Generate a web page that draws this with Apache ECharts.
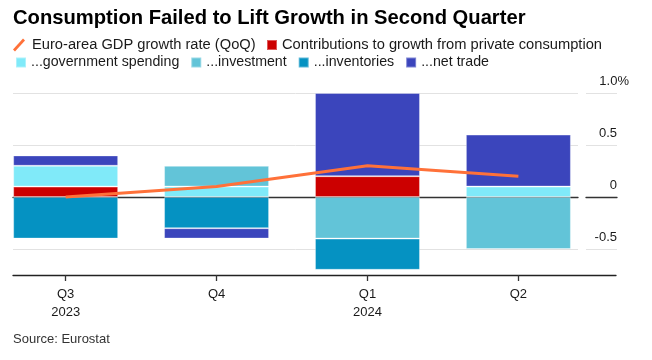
<!DOCTYPE html>
<html>
<head>
<meta charset="utf-8">
<script src="https://cdn.jsdelivr.net/npm/echarts@6/dist/echarts.min.js"></script>
<style>html,body{margin:0;padding:0;background:#fff}#c{width:652px;height:360px}</style>
</head>
<body>
<div id="c"></div>
<script>
const categories = ['Q3\n2023', 'Q4', 'Q1\n2024', 'Q2'];
const gdpGrowth = [0.0, 0.1, 0.3, 0.2];
const privateConsumption = [0.1, 0, 0.2, 0];
const governmentSpending = [0.2, 0.1, 0, 0.1];
const investment = [0, 0.2, -0.4, -0.5];
const inventories = [-0.4, -0.3, -0.3, 0];
const netTrade = [0.1, -0.1, 0.8, 0.5];
const yTicks = [-0.5, 0, 0.5, 1.0];

const names = {
  gdp: 'Euro-area GDP growth rate (QoQ)',
  cons: 'Contributions to growth from private consumption',
  gov: '...government spending',
  inv: '...investment',
  stock: '...inventories',
  trade: '...net trade'
};
const colors = {
  gdp: '#ff7139', cons: '#cc0000', gov: '#80eaf9', inv: '#62c4d8', stock: '#0592c2', trade: '#3b45bc'
};

const xIdx = categories.map((_, i) => i);
const XMIN = -0.349, XMAX0 = 3.395, XMAX2 = 3.654;
const YMIN = -0.75, YMAX = 1.0;

function barSeries(key, vals) {
  return {
    name: names[key], type: 'bar', stack: 'c', xAxisIndex: 0, yAxisIndex: 0,
    barWidth: 105,
    encode: { x: 1, y: 0 },
    itemStyle: { color: colors[key], borderColor: 'rgba(255,255,255,0.35)', borderWidth: 1 },
    data: vals.map((v, i) => [v === 0 ? null : v, xIdx[i]]),
    z: 2
  };
}

const chart = echarts.init(document.getElementById('c'), null, { renderer: 'canvas' });
const txt = '#1a1a1a';
const FF = 'Liberation Sans, Arial, sans-serif';
chart.setOption({
  animation: false,
  textStyle: { fontFamily: FF },
  title: {
    text: 'Consumption Failed to Lift Growth in Second Quarter',
    left: 13, top: 8, padding: 0,
    textStyle: { fontSize: 20.2, fontWeight: 'bold', color: '#000', fontFamily: FF }
  },
  legend: [
    {
      left: 13, top: 37.5, padding: 0, itemWidth: 12, itemHeight: 13,
      textStyle: { fontSize: 14.7, color: txt, padding: [0, 0, 0, 2] },
      data: [{ name: names.gdp, icon: 'path://M0,11 L10,0 L12,2 L2,13 Z' }]
    },
    {
      left: 266, top: 37.5, padding: 0, itemWidth: 10, itemHeight: 10,
      textStyle: { fontSize: 14.7, color: txt },
      data: [{ name: names.cons, icon: 'rect' }]
    },
    {
      left: 15, top: 55.5, padding: 0, itemWidth: 10, itemHeight: 10, itemGap: 11,
      textStyle: { fontSize: 14.2, color: txt },
      data: [names.gov, names.inv, names.stock, names.trade].map(n => ({ name: n, icon: 'rect' }))
    }
  ],
  grid: [
    { left: 13, right: 652 - 578, top: 93, bottom: 360 - 275 },
    { left: 586, right: 652 - 617, top: 93, bottom: 360 - 275 },
    { left: 13, right: 652 - 616, top: 93, bottom: 360 - 275 }
  ],
  xAxis: [
    { gridIndex: 0, type: 'value', min: XMIN, max: XMAX0,
      axisLine: { show: true, onZero: true, lineStyle: { color: '#333', width: 1.3 } },
      axisTick: { show: false }, axisLabel: { show: false }, splitLine: { show: false } },
    { gridIndex: 1, type: 'value', min: 0, max: 1,
      axisLine: { show: true, onZero: true, lineStyle: { color: '#333', width: 1.3 } },
      axisTick: { show: false }, axisLabel: { show: false }, splitLine: { show: false } },
    { gridIndex: 2, type: 'value', min: XMIN, max: XMAX2 - 0.007, position: 'bottom',
      axisLine: { show: true, onZero: false, lineStyle: { color: '#222', width: 1.3 } },
      axisTick: { show: true, customValues: xIdx, length: 6, lineStyle: { color: '#333', width: 1.3 } },
      axisLabel: { show: true, customValues: xIdx, margin: 10, fontSize: 13, lineHeight: 18, color: txt,
        formatter: v => categories[Math.round(v)] },
      splitLine: { show: false } }
  ],
  yAxis: [
    { gridIndex: 0, type: 'value', min: YMIN, max: YMAX, interval: 0.25,
      axisLine: { show: false }, axisTick: { show: false }, axisLabel: { show: false },
      splitLine: { show: true, lineStyle: { color: ['rgba(0,0,0,0)', '#e2e2e2'], width: 1 } } },
    { gridIndex: 1, type: 'value', min: YMIN, max: YMAX, interval: 0.25, position: 'right',
      axisLine: { show: false }, axisTick: { show: false },
      axisLabel: {
        show: true, inside: true, margin: -12, verticalAlign: 'bottom', fontSize: 13, color: txt,
        padding: [0, 0, 5, 0],
        formatter: v => {
          const r = Math.round(v * 100) / 100;
          if (!yTicks.some(t => Math.abs(t - r) < 1e-6)) return '';
          if (Math.abs(r - 1) < 1e-6) return '1.0%';
          return '{n|' + (r === 0 ? '0' : r.toFixed(1)) + '}';
        },
        rich: { n: { fontSize: 13, color: txt, padding: [0, 12, 0, 0] } }
      },
      splitLine: { show: true, lineStyle: { color: ['rgba(0,0,0,0)', '#e2e2e2'], width: 1 } } },
    { gridIndex: 2, type: 'value', min: 0, max: 1, show: false }
  ],
  series: [
    barSeries('cons', privateConsumption),
    barSeries('gov', governmentSpending),
    barSeries('inv', investment),
    barSeries('stock', inventories),
    barSeries('trade', netTrade),
    {
      name: names.gdp, type: 'line', xAxisIndex: 0, yAxisIndex: 0,
      data: gdpGrowth.map((v, i) => [xIdx[i], v]),
      showSymbol: false, symbol: 'none',
      lineStyle: { color: colors.gdp, width: 3 }, itemStyle: { color: colors.gdp },
      z: 5
    }
  ],
  graphic: [
    { type: 'text', left: 13, top: 333, style: { text: 'Source: Eurostat', fontSize: 13, fill: '#333', fontFamily: FF } }
  ]
});
</script>
</body>
</html>
